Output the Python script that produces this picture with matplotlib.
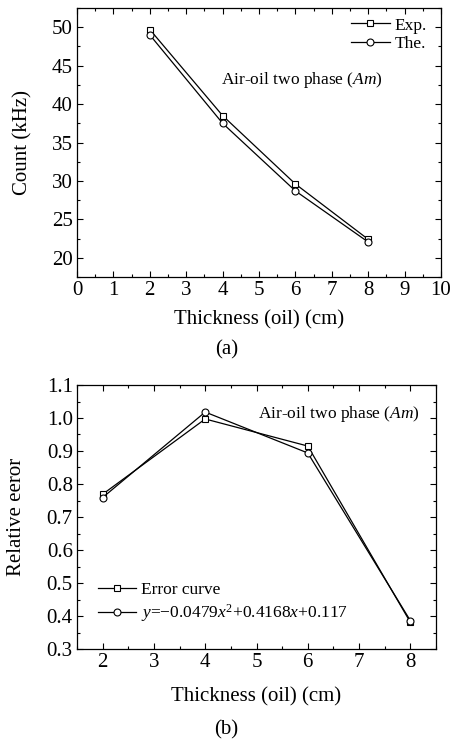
import matplotlib
matplotlib.use("Agg")
import matplotlib.pyplot as plt
from matplotlib.ticker import MultipleLocator, FormatStrFormatter

plt.rcParams['font.family'] = ['Liberation Serif', 'DejaVu Serif']
plt.rcParams['mathtext.fontset'] = 'custom'
plt.rcParams['mathtext.rm'] = 'Liberation Serif'
plt.rcParams['mathtext.it'] = 'Liberation Serif:italic'
plt.rcParams['font.size'] = 12

# Data (a)
thickness = [2, 4, 6, 8]
count_exp = [49.7, 38.5, 29.6, 22.4]
count_the = [49.0, 37.5, 28.7, 22.05]

# Data (b)
err_curve = [0.769, 0.997, 0.915, 0.381]
err_fit = [0.759, 1.018, 0.894, 0.386]

W, H = 453, 745
fig = plt.figure(figsize=(W / 100, H / 100), dpi=100)

def style(ax):
    ax.tick_params(which='both', direction='in', top=True, right=True, labelsize=15)
    ax.tick_params(which='major', length=4, width=0.8, pad=3)
    ax.tick_params(which='minor', length=2.2, width=0.8)
    for s in ax.spines.values():
        s.set_linewidth(0.9)

line_kw = dict(color='black', lw=0.9, mfc='white', mec='black', mew=0.8)

# ---- (a)
ax1 = fig.add_axes([77 / W, 1 - 277 / H, 364 / W, 269 / H])
ax1.plot(thickness, count_exp, '-s', ms=4.5, label='Exp.', **line_kw)
ax1.plot(thickness, count_the, '-o', ms=5, label='The.', **line_kw)
ax1.set_xlim(0, 10)
ax1.set_ylim(17.5, 52.5)
ax1.xaxis.set_major_locator(MultipleLocator(1))
ax1.xaxis.set_minor_locator(MultipleLocator(0.5))
ax1.yaxis.set_major_locator(MultipleLocator(5))
ax1.yaxis.set_minor_locator(MultipleLocator(2.5))
style(ax1)
ax1.set_xlabel('Thickness (oil) (cm)', fontsize=15)
ax1.xaxis.set_label_coords(0.5, -43 / 269)
ax1.xaxis.label.set_va('center')
ax1.set_ylabel('Count (kHz)', fontsize=15)
ax1.yaxis.set_label_coords((23 - 77) / 364, 0.5)
ax1.yaxis.label.set_va('center')
ax1.text(3.96, 43.1, 'Air-oil two phase ($Am$)', fontsize=12.5, va='center', ha='left')
ax1.legend(loc='upper right', frameon=False, fontsize=12.5, handlelength=2.2, handletextpad=0.3,
           labelspacing=0.15, borderpad=0, borderaxespad=0, bbox_to_anchor=(0.9615, 0.965))
fig.text(0.5, 1 - 350 / H, '(a)', ha='center', va='center', fontsize=15)

# ---- (b)
ax2 = fig.add_axes([77 / W, 1 - 649 / H, 359 / W, 264 / H])
ax2.plot(thickness, err_curve, '-s', ms=4.5, label='Error curve', **line_kw)
ax2.plot(thickness, err_fit, '-o', ms=5,
         label='$y$=\u22120.0479$x^2$+0.4168$x$+0.117', **line_kw)
ax2.set_xlim(1.5, 8.5)
ax2.set_ylim(0.3, 1.1)
ax2.xaxis.set_major_locator(MultipleLocator(1))
ax2.xaxis.set_minor_locator(MultipleLocator(0.5))
ax2.yaxis.set_major_locator(MultipleLocator(0.1))
ax2.yaxis.set_minor_locator(MultipleLocator(0.05))
ax2.yaxis.set_major_formatter(FormatStrFormatter('%.1f'))
style(ax2)
ax2.set_xlabel('Thickness (oil) (cm)', fontsize=15)
ax2.xaxis.set_label_coords(0.5, -48 / 264)
ax2.xaxis.label.set_va('center')
ax2.set_ylabel('Relative eeror', fontsize=15)
ax2.yaxis.set_label_coords((16 - 77) / 359, 0.5)
ax2.yaxis.label.set_va('center')
ax2.text(5.03, 1.012, 'Air-oil two phase ($Am$)', fontsize=12.5, va='center', ha='left')
ax2.legend(loc='upper left', frameon=False, fontsize=12.5, handlelength=2.2, handletextpad=0.3,
           labelspacing=0.25, borderpad=0, borderaxespad=0, bbox_to_anchor=(0.0585, 0.255))
fig.text(0.5, 1 - 730 / H, '(b)', ha='center', va='center', fontsize=15)

fig.savefig('out.png', dpi=100)
